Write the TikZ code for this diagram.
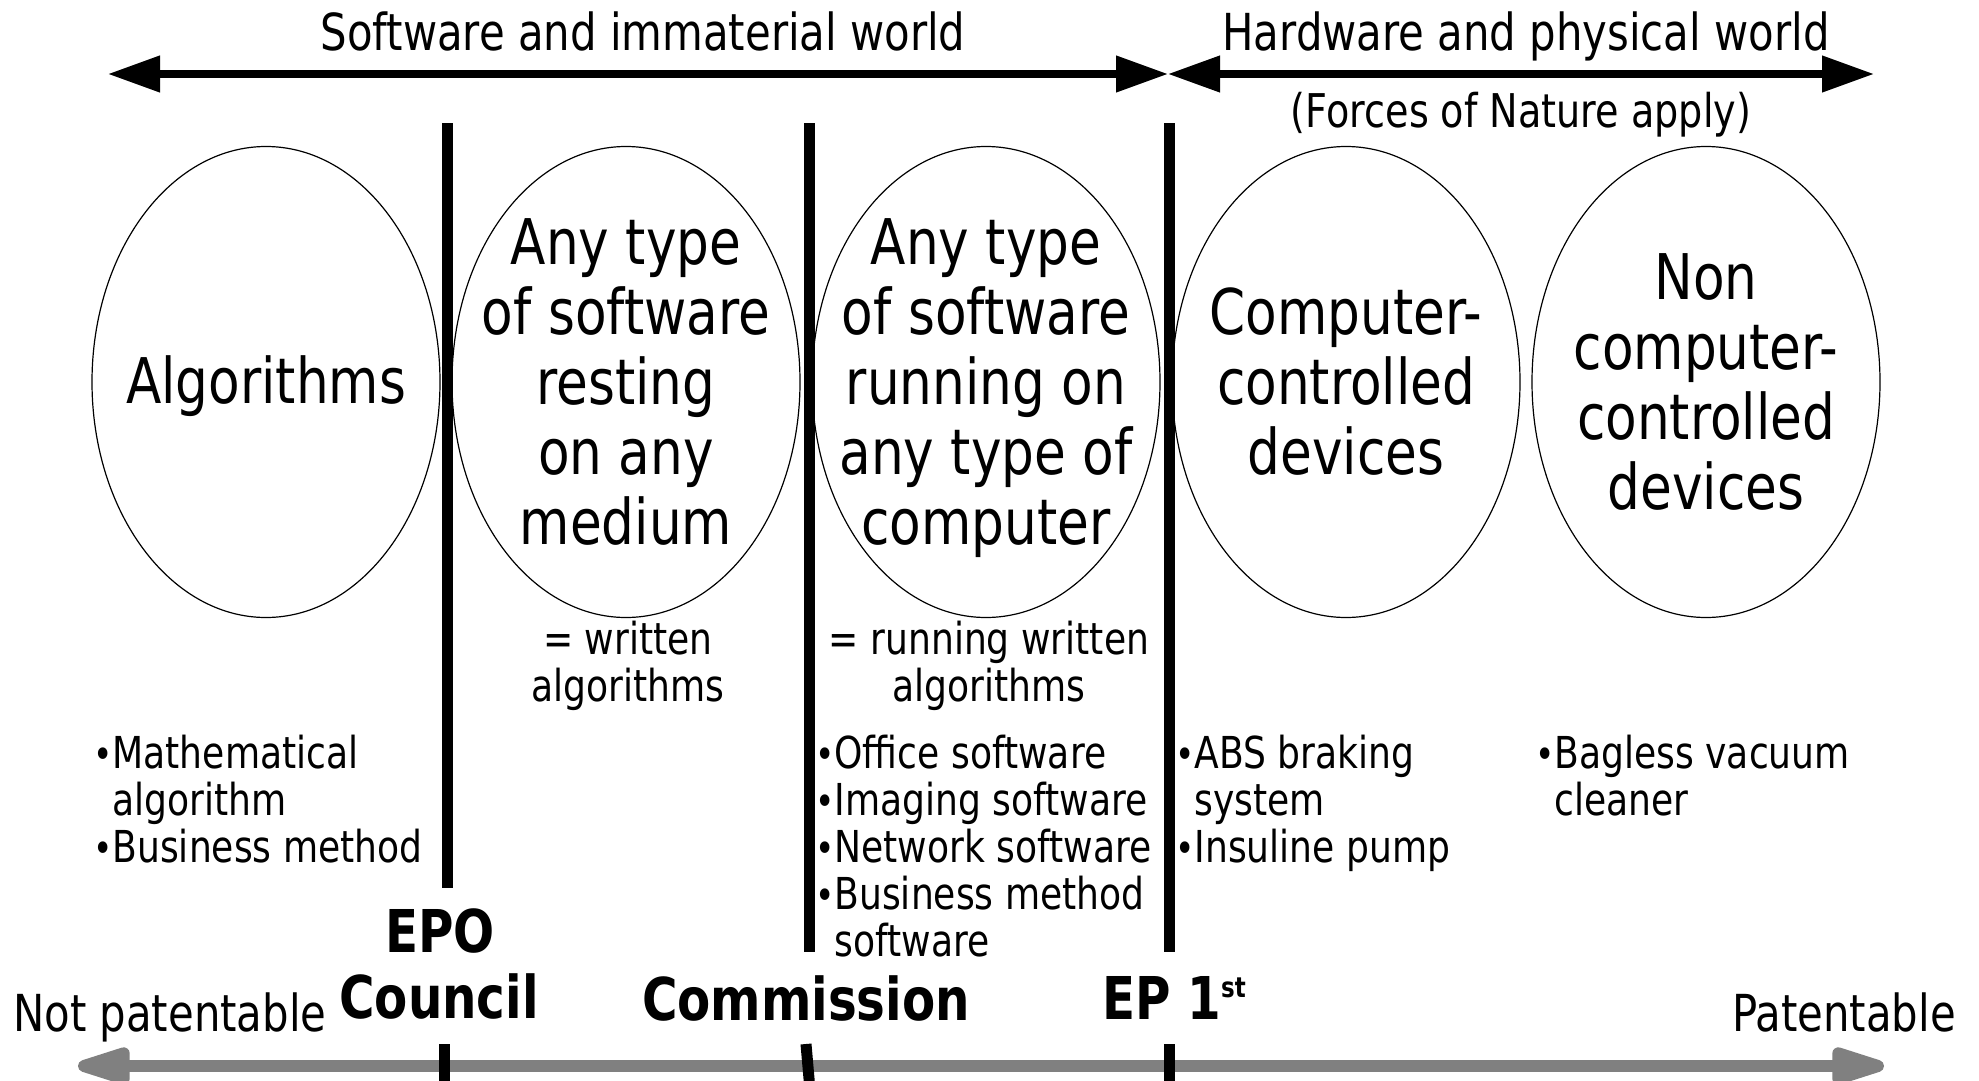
\documentclass[tikz,border=0pt]{standalone}
\usepackage{fontspec}
\setmainfont{DejaVu Sans}[FakeStretch=0.82]
\usetikzlibrary{arrows.meta}

\newcommand\fsz[2]{\fontsize{#1}{#2}\selectfont}
\newcommand\bul{{\fsz{40}{47}\hspace*{-7pt}\textbullet}}

\begin{document}
\begin{tikzpicture}[x=1pt, y=-1pt,
	blob/.style={inner sep=0pt, align=center, font=\fsz{63}{70}},
	rim/.style={line width=1.2pt},
	divbar/.style={line width=11pt},
	worldarrow/.style={line width=7.5pt,
		{Triangle[length=52pt,width=35pt]}-{Triangle[length=52pt,width=35pt]}},
	patarrow/.style={line width=12pt, draw=gray,
		{Triangle[length=68pt,width=38pt,round]}-{Triangle[length=68pt,width=38pt,round]}},
	smalltext/.style={inner sep=0pt, font=\fsz{44}{47}},
	headtext/.style={inner sep=0pt, font=\fsz{51}{60}},
	lawtext/.style={inner sep=0pt, font=\bfseries\fsz{59}{66}}]
	\useasboundingbox (0,0) rectangle (1979,1081);
	
	% worlds
	\coordinate (wl) at (108,74);
	\coordinate (wm) at (1168,74);
	\coordinate (wr) at (1874,74);
	\draw[worldarrow] (wl) -- (wm);
	\draw[worldarrow] (wm) -- (wr);
	\node[headtext, anchor=base] (soft) at (643,51) {Software and immaterial world};
	\node[headtext, anchor=base] (hard) at (1526,51) {Hardware and physical world};
	\node[smalltext, font=\fsz{46.5}{47}, anchor=base] (nature) at (1521,128) {(Forces of Nature apply)};
	
	% categories
	\node[blob] (alg) at (266,386) {Algorithms};
	\node[blob] (rest) at (626,382) {Any type\\of software\\resting\\on any\\medium};
	\node[blob] (run) at (986,388) {Any type\\of software\\running on\\any type of\\computer};
	\node[blob] (ctrl) at (1346,382) {Computer-\\controlled\\devices};
	\node[blob] (nonctrl) at (1706,382) {Non\\computer-\\controlled\\devices};
	\foreach \n/\cx in {alg/266, rest/626, run/986, ctrl/1346, nonctrl/1706}
		\draw[rim] (\cx,382) ellipse [x radius=174, y radius=235.5];
	
	\node[smalltext, anchor=base, align=center] (restdef) at (628,701) {= written\\algorithms};
	\node[smalltext, anchor=base, align=center] (rundef) at (989,701) {= running written\\algorithms};
	
	% examples (base = last line)
	\node[smalltext, anchor=base west, align=left] (algex) at (100,862)
		{\bul Mathematical\\\hphantom{\bul}algorithm\\\bul Business method};
	\node[smalltext, anchor=base west, align=left] (runex) at (822,956)
		{\bul Office software\\\bul Imaging software\\\bul Network software\\\bul Business method\\\hphantom{\bul}software};
	\node[smalltext, anchor=base west, align=left] (ctrlex) at (1182,862)
		{\bul ABS braking\\\hphantom{\bul}system\\\bul Insuline pump};
	\node[smalltext, anchor=base west, align=left] (nonctrlex) at (1542,815)
		{\bul Bagless vacuum\\\hphantom{\bul}cleaner};
	
	% dividers
	\coordinate (epotop) at (447,123);
	\coordinate (epobot) at (447,888);
	\coordinate (comtop) at (809,123);
	\coordinate (combot) at (809,952);
	\coordinate (eptop) at (1169,123);
	\coordinate (epbot) at (1169,952);
	\draw[divbar] (epotop) -- (epobot);
	\draw[divbar] (comtop) -- (combot);
	\draw[divbar] (eptop) -- (epbot);
	
	\node[lawtext, anchor=base] (epo) at (440,952) {EPO};
	\node[lawtext, anchor=base] (council) at (439,1018) {Council};
	\node[lawtext, anchor=base] (commission) at (806,1020) {Commission};
	\node[lawtext, anchor=base west] (ep) at (1102,1019) {EP 1\raisebox{22pt}{\fsz{28}{28}st}};
	
	% patentability scale
	\coordinate (pl) at (78,1066);
	\coordinate (pr) at (1884,1066);
	\draw[patarrow] (pl) -- (pr);
	\node[headtext, anchor=base west] (notpat) at (13,1031) {Not patentable};
	\node[headtext, anchor=base east] (pat) at (1956,1031) {Patentable};
	
	\coordinate (t1a) at (444,1044);
	\coordinate (t1b) at (444,1090);
	\coordinate (t2a) at (806,1044);
	\coordinate (t2b) at (810,1090);
	\coordinate (t3a) at (1169,1044);
	\coordinate (t3b) at (1169,1090);
	\draw[divbar] (t1a) -- (t1b);
	\draw[divbar] (t2a) -- (t2b);
	\draw[divbar] (t3a) -- (t3b);
\end{tikzpicture}
\end{document}
